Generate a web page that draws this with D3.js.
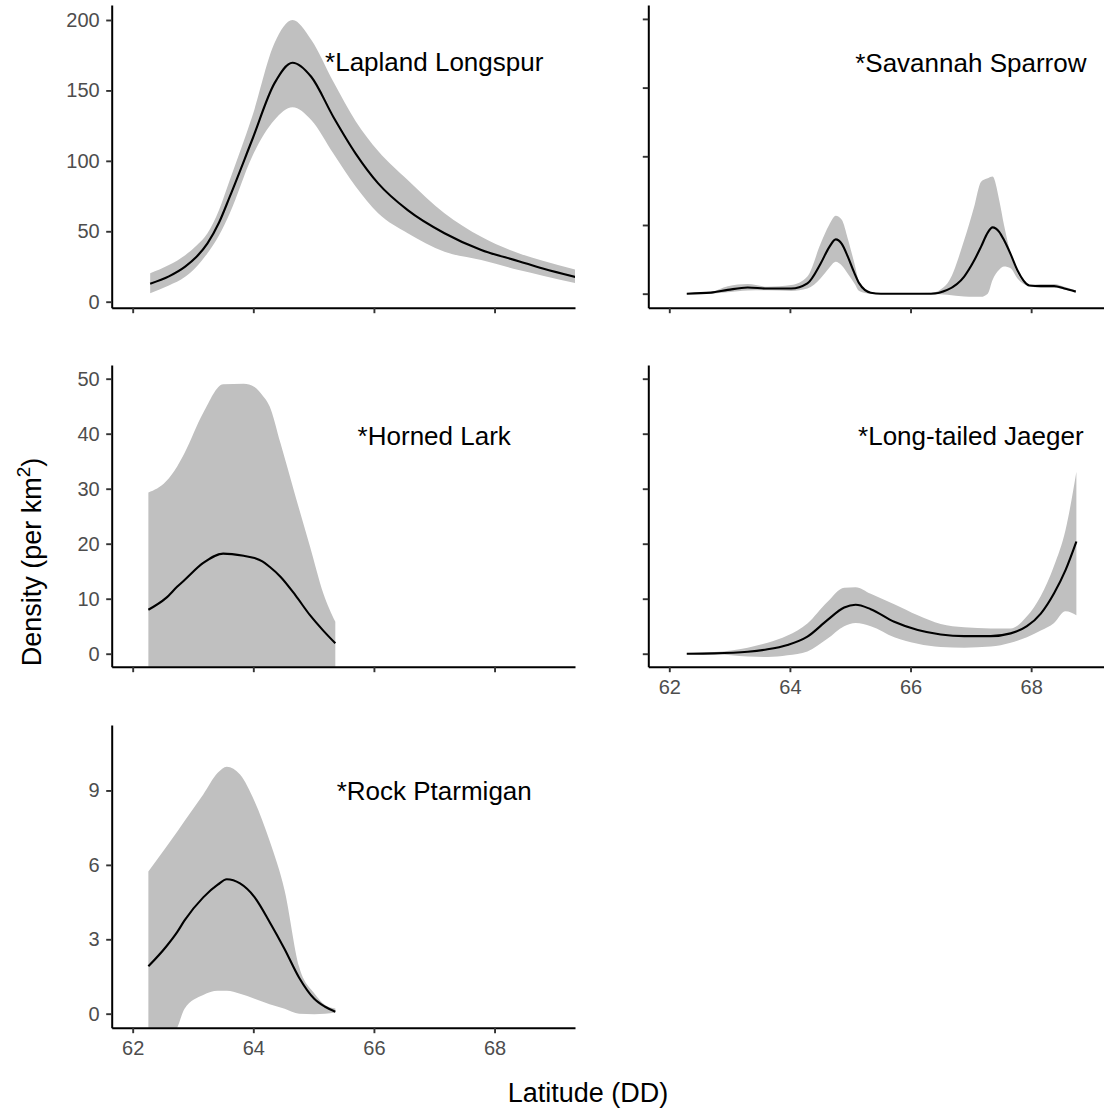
<!DOCTYPE html>
<html>
<head>
<meta charset="utf-8">
<script src="https://cdn.jsdelivr.net/npm/d3@7"></script>
<style>
  body { margin: 0; background: #fff; }
  svg { display: block; font-family: Arial, "Liberation Sans", sans-serif; }
</style>
</head>
<body>
<svg id="chart" width="1104" height="1109"></svg>
<script>
// Latitude (DD) and fitted density with confidence band, one set per species

const lapLat   = [62.29, 62.6, 62.87, 63.05, 63.24, 63.43, 63.61, 63.98, 64.35, 64.65, 64.96, 65.33, 65.7, 66.07, 66.56, 67.17, 67.78, 68.4, 68.8, 69.36];
const lapMean  = [12.8, 18, 24.9, 31.5, 41.4, 56, 74.6, 114.8, 155, 169.7, 159.7, 131, 105, 84, 65, 48.6, 36.7, 28.8, 23.5, 17.3];
const lapUpper = [20.2, 26, 33, 39.5, 48.6, 65, 86.4, 131.3, 183.5, 200, 186, 156, 128, 107, 86.4, 62.8, 46.1, 34.4, 29, 22.5];
const lapLower = [6, 11.5, 17.7, 24.5, 34.4, 47, 62.8, 103, 129, 138, 129, 105, 81.6, 62.8, 48.6, 35.5, 29.6, 22.5, 18.5, 13];

const savLat   = [62.29, 62.69, 62.97, 63.3, 63.63, 64.02, 64.29, 64.51, 64.65, 64.76, 64.86, 64.96, 65.07, 65.15, 65.34, 65.51, 66.34, 66.61, 66.89, 67.05, 67.17, 67.28, 67.36, 67.47, 67.55, 67.66, 67.77, 67.97, 68.16, 68.38, 68.55, 68.74];
const savMean  = [0, 0.3, 1.1, 1.8, 1.5, 1.5, 3.0, 8.8, 13.5, 15.8, 14.5, 10.8, 6.0, 3.0, 0.3, 0, 0, 1.1, 5.0, 9.5, 13.7, 17.8, 19.3, 18, 15.6, 11.5, 6.9, 2.4, 2.2, 2.2, 1.5, 0.6];
const savUpper = [0.1, 0.5, 2.2, 2.8, 2.0, 2.5, 5, 14.6, 20, 22.7, 21.5, 16, 8.8, 3.5, 0.5, 0.1, 0.3, 3, 15.6, 25, 32.6, 33.6, 34.1, 27.3, 20, 11.7, 6, 2.5, 2.8, 2.8, 2, 0.9];
const savLower = [-0.1, 0, 0.4, 0.9, 1.0, 0.8, 1.5, 4.5, 7.5, 9.3, 8.2, 5.8, 3, 0.8, 0, -0.1, -0.1, -0.3, -0.8, -0.9, -0.9, 0, 4, 7, 7.9, 7.4, 4.5, 2.2, 1.8, 1.8, 1.2, 0.4];

const hlLat   = [62.26, 62.55, 62.74, 62.86, 63.17, 63.5, 63.84, 64.02, 64.15, 64.27, 64.45, 64.7, 64.94, 65.16, 65.36];
const hlMean  = [8, 10.1, 12.2, 13.4, 16.5, 18.2, 17.8, 17.4, 16.8, 15.8, 14, 10.6, 7.0, 4.2, 1.9];
const hlUpper = [29.3, 31.3, 34.1, 36.5, 43.8, 49.0, 49.1, 48.5, 47, 45, 38.3, 28.6, 19.5, 11, 5.8];
const hlLower = [-13, -11, -10, -9.5, -11, -12.6, -13.5, -13.7, -13, -13.4, -10.3, -7.4, -5.5, -2.6, -3];

const ltjLat   = [62.29, 62.75, 63.3, 63.63, 63.96, 64.29, 64.62, 64.9, 65.09, 65.34, 65.73, 66.12, 66.5, 66.89, 67.33, 67.66, 67.93, 68.16, 68.38, 68.57, 68.75];
const ltjMean  = [0, 0.06, 0.36, 0.8, 1.6, 3.1, 6.1, 8.4, 8.9, 8.1, 5.8, 4.3, 3.5, 3.2, 3.2, 3.7, 5.0, 7.3, 11.0, 15.2, 20.4];
const ltjUpper = [0.1, 0.3, 1.1, 2.0, 3.3, 5.5, 9.4, 12.0, 12.1, 10.9, 9.0, 7.0, 5.4, 4.8, 4.6, 4.6, 6.8, 10.5, 16, 22.5, 33.1];
const ltjLower = [-0.1, -0.1, -0.5, -0.6, -0.3, 0.4, 2.7, 5.0, 5.6, 5.0, 3.0, 1.8, 1.2, 1.1, 1.3, 2.0, 3.0, 4.2, 5.6, 7.7, 7.0];

const rpLat   = [62.26, 62.55, 62.74, 62.86, 63.17, 63.41, 63.56, 63.78, 64.02, 64.27, 64.52, 64.76, 65.01, 65.19, 65.36];
const rpMean  = [1.91, 2.69, 3.3, 3.76, 4.69, 5.2, 5.42, 5.25, 4.7, 3.7, 2.6, 1.45, 0.6, 0.28, 0.08];
const rpUpper = [5.73, 6.70, 7.35, 7.77, 8.84, 9.71, 9.96, 9.64, 8.57, 6.97, 4.96, 1.89, 0.82, 0.35, 0.21];
const rpLower = [-2.5, -1.2, -0.56, 0.2, 0.75, 0.92, 0.92, 0.8, 0.6, 0.38, 0.2, 0.0, -0.02, 0.0, 0.05];

// axis ticks
const latTicks = [62, 64, 66, 68];
const lapTicks = [0, 50, 100, 150, 200];
const savTicks = [0, 20, 40, 60, 80];
const hlTicks = [0, 10, 20, 30, 40, 50];
const rpTicks = [0, 3, 6, 9];

const svg = d3.select('#chart');

const panelW = 463.3;
const colX = [111.7, 648.3];
const rowY = [5, 365, 725];
const rowH = [302.7, 301.7, 302.7];
const xDomain = [61.652, 69.334];

const panels = [
  { label: '*Lapland Longspur', col: 0, row: 0, lat: lapLat, mean: lapMean, lo: lapLower, hi: lapUpper,
    yDomain: [-4.26, 210.65], ticks: lapTicks, yLabels: true, xLabels: false, labelY: 170 },
  { label: '*Savannah Sparrow', col: 1, row: 0, lat: savLat, mean: savMean, lo: savLower, hi: savUpper,
    yDomain: [-4.08, 84.05], ticks: savTicks, yLabels: false, xLabels: false, labelY: 67.3 },
  { label: '*Horned Lark', col: 0, row: 1, lat: hlLat, mean: hlMean, lo: hlLower, hi: hlUpper,
    yDomain: [-2.36, 52.49], ticks: hlTicks, yLabels: true, xLabels: false, labelY: 39.6 },
  { label: '*Long-tailed Jaeger', col: 1, row: 1, lat: ltjLat, mean: ltjMean, lo: ltjLower, hi: ltjUpper,
    yDomain: [-2.36, 52.49], ticks: hlTicks, yLabels: false, xLabels: true, labelY: 39.6 },
  { label: '*Rock Ptarmigan', col: 0, row: 2, lat: rpLat, mean: rpMean, lo: rpLower, hi: rpUpper,
    yDomain: [-0.565, 11.64], ticks: rpTicks, yLabels: true, xLabels: true, labelY: 9 },
];

const defs = svg.append('defs');

panels.forEach((p, i) => {
  const h = rowH[p.row];
  const g = svg.append('g')
    .attr('transform', `translate(${colX[p.col]},${rowY[p.row]})`);

  const x = d3.scaleLinear().domain(xDomain).range([0, panelW]);
  const y = d3.scaleLinear().domain(p.yDomain).range([h, 0]);

  defs.append('clipPath').attr('id', 'clip' + i)
    .append('rect').attr('width', panelW).attr('height', h);

  const rows = p.lat.map((d, k) => ({ lat: d, mean: p.mean[k], lo: p.lo[k], hi: p.hi[k] }));

  const plot = g.append('g').attr('clip-path', `url(#clip${i})`);

  // confidence band
  plot.append('path')
    .datum(rows)
    .attr('fill', '#c0c0c0')
    .attr('d', d3.area()
      .curve(d3.curveMonotoneX)
      .x(d => x(d.lat))
      .y0(d => y(d.lo))
      .y1(d => y(d.hi)));

  // fitted density
  plot.append('path')
    .datum(rows)
    .attr('fill', 'none')
    .attr('stroke', '#000')
    .attr('stroke-width', 2.1)
    .attr('stroke-linejoin', 'round')
    .attr('d', d3.line()
      .curve(d3.curveMonotoneX)
      .x(d => x(d.lat))
      .y(d => y(d.mean)));

  g.append('text')
    .attr('x', x(67))
    .attr('y', y(p.labelY))
    .attr('dy', '0.35em')
    .attr('text-anchor', 'middle')
    .attr('font-size', 26)
    .attr('fill', '#000')
    .text(p.label);

  const yAxis = g.append('g')
    .call(d3.axisLeft(y)
      .tickValues(p.ticks)
      .tickSize(5.5)
      .tickSizeOuter(0)
      .tickPadding(6.5)
      .tickFormat(p.yLabels ? d3.format('d') : () => ''));

  const xAxis = g.append('g')
    .attr('transform', `translate(0,${h})`)
    .call(d3.axisBottom(x)
      .tickValues(latTicks)
      .tickSize(5.5)
      .tickSizeOuter(0)
      .tickPadding(8)
      .tickFormat(p.xLabels ? d3.format('d') : () => ''));

  [yAxis, xAxis].forEach(ax => {
    ax.select('.domain').attr('stroke', '#000').attr('stroke-width', 2);
    ax.selectAll('.tick line').attr('stroke', '#333').attr('stroke-width', 1.9);
    ax.selectAll('.tick text')
      .attr('fill', '#4d4d4d')
      .attr('font-size', 20)
      .attr('font-family', 'Arial, "Liberation Sans", sans-serif');
  });
});

// axis titles
svg.append('text')
  .attr('x', 588)
  .attr('y', 1102)
  .attr('text-anchor', 'middle')
  .attr('font-size', 27)
  .attr('fill', '#000')
  .text('Latitude (DD)');

const yTitle = svg.append('text')
  .attr('transform', 'translate(41,562) rotate(-90)')
  .attr('text-anchor', 'middle')
  .attr('font-size', 27)
  .attr('fill', '#000');
yTitle.append('tspan').text('Density (per km');
yTitle.append('tspan').attr('font-size', 19).attr('dy', -11).text('2');
yTitle.append('tspan').attr('dy', 11).text(')');
</script>
</body>
</html>
